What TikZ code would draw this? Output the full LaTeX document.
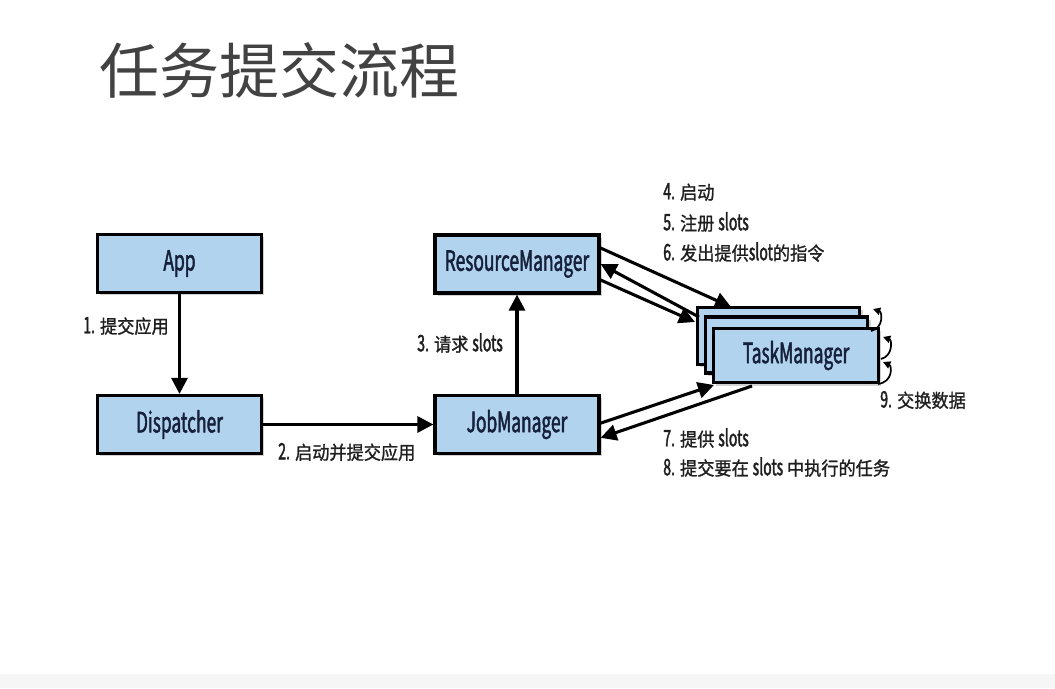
\documentclass[tikz,border=0pt]{standalone}
\usepackage{fontspec}
\newfontfamily\zh[FakeStretch=0.92,FakeBold=1.2]{Noto Sans CJK SC}
\newfontfamily\nar[FakeStretch=0.62,FakeBold=1.6]{Noto Sans CJK SC}
\newfontfamily\ttl{Noto Sans CJK SC}
\newcommand\lt[1]{{\nar\fontsize{17}{18}\selectfont #1}}
\usetikzlibrary{arrows.meta,shadows}
\definecolor{boxfill}{HTML}{B2D3EE}
\definecolor{boxtext}{HTML}{15203A}
\definecolor{titlegray}{HTML}{424242}
\begin{document}
\begin{tikzpicture}[x=0.75pt,y=-0.75pt,
  box/.style={draw=black,line width=2.4pt,fill=boxfill,minimum width=123pt,minimum height=43.5pt,
    inner sep=0pt,font=\nar\fontsize{21}{24}\selectfont,text=boxtext,
    drop shadow={shadow xshift=2pt,shadow yshift=-2pt,opacity=0.35,fill=gray}},
  conn/.style={line width=2.3pt,-{Triangle[length=12pt,width=12pt]}},
  loop/.style={line width=1.3pt,-{Triangle[length=5.5pt,width=5.5pt]}},
  lab/.style={font=\zh\fontsize{14}{16}\selectfont,text=black!88,inner sep=0pt,anchor=west},
  ttlstyle/.style={font=\ttl\fontsize{45}{50}\selectfont,text=titlegray,inner sep=0pt,anchor=west}]
\useasboundingbox[fill=white] (0,0) rectangle (1055,688);
\fill[gray!7] (0,674) rectangle (1055,688);
% title
\node[ttlstyle] (title) at (99,70) {任务提交流程};
% boxes
\node[box] (app) at (179.5,263.5) {App};
\node[box] (disp) at (179.5,424.5) {Dispatcher};
\node[box] (rm) at (517,264) {ResourceManager};
\node[box] (jm) at (517,424.5) {JobManager};
\node[box,minimum width=122pt,minimum height=43pt] (tmB) at (778.5,336) {};
\node[box,minimum width=122pt,minimum height=42pt] (tmM) at (786.5,345) {};
\node[box,minimum width=124pt,minimum height=41pt] (tmF) at (796,355.5) {TaskManager};
% connectors
\draw[conn] (app.south) -- (disp.north);
\draw[conn] (disp.east) -- (jm.west);
\draw[conn] (jm.north) -- (rm.south);
\coordinate (rmA) at ([yshift=12pt]rm.east);
\coordinate (rmB) at ([yshift=0pt]rm.east);
\coordinate (rmC) at ([yshift=-12pt]rm.east);
\coordinate (tmT1) at (731,307);
\coordinate (tmT2) at (699,317);
\coordinate (tmT3) at (695,322);
\draw[conn] (rmA) -- (tmT1);
\draw[conn] (tmT2) -- (rmB);
\draw[conn] (rmC) -- (tmT3);
\coordinate (jmA) at ([yshift=1pt]jm.east);
\coordinate (jmB) at ([yshift=-10pt]jm.east);
\coordinate (tmL) at (714,385);
\coordinate (tmR) at (752,386);
\draw[conn] (jmA) -- (tmL);
\draw[conn] (tmR) -- (jmB);
% self loops
\coordinate (l1a) at (871,331);
\coordinate (l1b) at (873,309);
\coordinate (l2a) at (881,359);
\coordinate (l2b) at (883,337);
\coordinate (l3a) at (878,384);
\coordinate (l3b) at (883,362);
\draw[loop] (l1a) .. controls (884,328) and (882,312) .. (l1b);
\draw[loop] (l2a) .. controls (893,356) and (892,340) .. (l2b);
\draw[loop] (l3a) .. controls (893,382) and (892,366) .. (l3b);
% labels
\node[lab] (lab1) at (83,326) {\lt{1.} 提交应用};
\node[lab] (lab2) at (278,452) {\lt{2.} 启动并提交应用};
\node[lab] (lab3) at (417,343) {\lt{3.} 请求 \lt{slots}};
\node[lab] (lab4) at (663,192) {\lt{4.} 启动};
\node[lab] (lab5) at (663,222) {\lt{5.} 注册 \lt{slots}};
\node[lab] (lab6) at (663,252) {\lt{6.} 发出提供\lt{slot}的指令};
\node[lab] (lab7) at (663,438) {\lt{7.} 提供 \lt{slots}};
\node[lab] (lab8) at (663,467) {\lt{8.} 提交要在 \lt{slots} 中执行的任务};
\node[lab] (lab9) at (880,400) {\lt{9.} 交换数据};
\end{tikzpicture}
\end{document}
